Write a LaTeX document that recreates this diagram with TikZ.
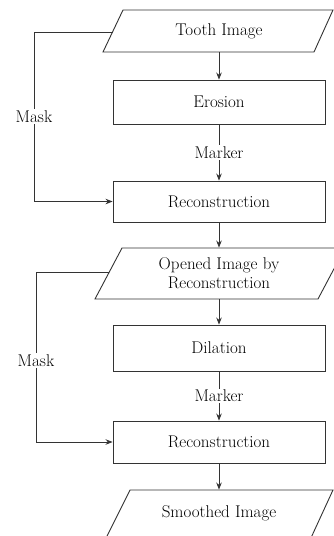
\documentclass[tikz,border=0pt]{standalone}
\usepackage{fontspec}
\usetikzlibrary{arrows.meta}
\newcommand\dfont{\fontsize{17}{19}\selectfont}
\begin{document}
\begin{tikzpicture}[x=1pt,y=-1pt,line width=0.9pt, color=black!80,
  box/.style={draw, minimum width=212pt, inner sep=0pt, font=\dfont, text=black},
  io/.style={draw=none, minimum width=190pt, inner sep=0pt, align=center, font=\dfont, text=black},
  lbl/.style={fill=white, inner sep=1.5pt, font=\dfont, text=black},
  arr/.style={-{Stealth[length=7pt,width=5.5pt]}}]
\useasboundingbox (0,0) rectangle (334,536);
\clip (0,0) rectangle (334,536);
\fill[white] (0,0) rectangle (334,536);

% shapes
\node[io, minimum height=42pt] (tooth) at (219,31) {Tooth Image};
\draw (123,10) -- (333,10) -- (314,52) -- (103,52) -- cycle;
\node[box, minimum height=44pt] (ero) at (219,102) {Erosion};
\node[box, minimum height=41pt] (rec1) at (219,201.5) {Reconstruction};
\node[io, minimum height=51pt] (open) at (219,273.5) {Opened Image by\\Reconstruction};
\draw (122,248) -- (345,248) -- (318,299) -- (95,299) -- cycle;
\node[box, minimum height=46pt] (dil) at (219,348) {Dilation};
\node[box, minimum height=42pt] (rec2) at (219,442) {Reconstruction};
\node[io, minimum height=46pt] (smooth) at (219,513) {Smoothed Image};
\draw (130,490) -- (333,490) -- (310,540) -- (105,540) -- cycle;

\coordinate (m1) at (112.5,32);
\coordinate (m2) at (109,272);

% connectors
\draw[arr] (tooth.south) -- (ero.north);
\draw[arr] (ero.south) -- node[lbl]{Marker} (rec1.north);
\draw[arr] (rec1.south) -- (open.north);
\draw[arr] (open.south) -- (dil.north);
\draw[arr] (dil.south) -- node[lbl]{Marker} (rec2.north);
\draw[arr] (rec2.south) -- (smooth.north);
\draw[arr] (m1) -- ++(-78.5,0) |- node[lbl, pos=0.25]{Mask} (rec1.west);
\draw[arr] (m2) -- ++(-73,0) |- node[lbl, pos=0.26]{Mask} (rec2.west);
\end{tikzpicture}
\end{document}
